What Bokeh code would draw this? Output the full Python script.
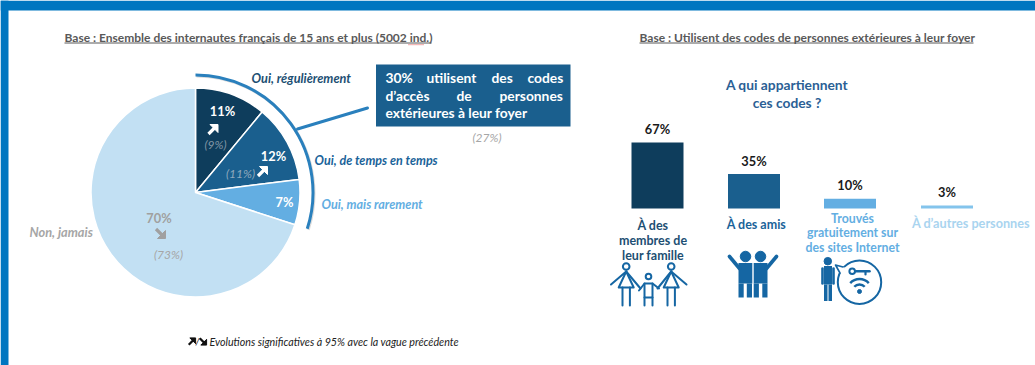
import math

from bokeh.core.properties import value
from bokeh.embed import file_html
from bokeh.models import ColumnDataSource, Range1d
from bokeh.plotting import figure
from bokeh.resources import INLINE

W, H = 1035, 365

# Survey figures
usage_labels = ["Oui, régulièrement", "Oui, de temps en temps", "Oui, mais rarement", "Non, jamais"]
usage_values = [11, 12, 7, 70]
usage_previous = [9, 11, None, 73]
usage_colors = ["#0e3d5c", "#1a5f8e", "#63aee2", "#c2e0f3"]
any_use_previous = 27

owner_labels = ["À des membres de leur famille", "À des amis",
                "Trouvés gratuitement sur des sites Internet", "À d'autres personnes"]
owner_values = [67, 35, 10, 3]
owner_colors = ["#0e3d5c", "#1a5f8e", "#63aee2", "#83c4ec"]

FONT = "Lato"
ICON = "#1566a3"

p = figure(width=W, height=H, output_backend="svg", toolbar_location=None,
           x_range=Range1d(0, W), y_range=Range1d(0, H),
           min_border=0, outline_line_color=None, background_fill_color="white")
p.axis.visible = False
p.grid.visible = False


def Y(y):
    """Page y (downwards) to plot y (upwards)."""
    return H - y


def label(x, y, txt, size, color, style="bold", align="center"):
    p.text([x], [Y(y)], text=[txt], text_font=value(FONT), text_font_size=f"{size}px",
           text_font_style=style, text_color=color, text_align=align, text_baseline="middle")


def arrow(cx, cy, color, up=True, s=1.0):
    """Thick diagonal trend arrow centred on a page position."""
    d = -1 if up else 1
    tipx, tipy = cx + 5 * s, cy + d * 5 * s
    p.line([cx - 4.5 * s, cx + 2 * s], [Y(cy - d * 4.5 * s), Y(cy + d * 2 * s)],
           line_color=color, line_width=3.2 * s)
    p.patch([tipx, tipx, tipx - 8 * s], [Y(tipy), Y(tipy - d * 8 * s), Y(tipy)], color=color)


def ring(x, y, r, color=ICON, w=2.0):
    p.scatter([x], [Y(y)], size=2 * r, fill_color="white", line_color=color, line_width=w)


def stroke(xs, ys, color=ICON, w=2.0):
    p.line(xs, [Y(v) for v in ys], line_color=color, line_width=w, line_cap="round", line_join="round")


def box(x0, x1, y0, y1, color=ICON):
    p.quad(left=x0, right=x1, top=Y(y0), bottom=Y(y1), color=color, line_width=0)


# Page frame
p.quad(left=0, right=W, top=H, bottom=Y(10), color="#0076c0", line_width=0)
p.quad(left=0, right=8, top=H, bottom=0, color="#0076c0", line_width=0)

# Panel headings
label(64, 37, "Base : Ensemble des internautes français de 15 ans et plus (5002 ind.)", 12, "#595959", align="left")
p.segment(64, Y(42.5), 431, Y(42.5), line_color="#595959", line_width=1)
p.segment(408, Y(44.2), 423, Y(44.2), line_color="#e05050", line_width=1, line_dash="1 1")
label(639, 37, "Base : Utilisent des codes de personnes extérieures à leur foyer", 12, "#595959", align="left")
p.segment(639, Y(42.5), 973, Y(42.5), line_color="#595959", line_width=1)

# Pie, clockwise from twelve o'clock
PX, PY, PR = 195, 192, 104.5
total = sum(usage_values)
angles = [math.pi / 2]
for v in usage_values:
    angles.append(angles[-1] - 2 * math.pi * v / total)
pie = ColumnDataSource(dict(x=[PX] * 4, y=[Y(PY)] * 4, start=angles[1:], end=angles[:-1], color=usage_colors))
p.wedge(x="x", y="y", radius=PR, start_angle="start", end_angle="end", fill_color="color",
        line_color="white", line_width=1.5, source=pie)

# Arc spanning the three "yes" slices, with its leader to the callout
p.arc([PX + 1], [Y(PY + 1)], radius=117.5, start_angle=angles[3], end_angle=angles[0],
      line_color="#9a9a9a", line_alpha=0.35, line_width=3)
p.arc([PX], [Y(PY)], radius=117.5, start_angle=angles[3], end_angle=angles[0],
      line_color="#2a80bd", line_width=3)
stroke([297, 367], [128.5, 107.5], color="#2a80bd", w=3)

# Callout
box(375.5, 570, 64, 126, color="#1a5f8e")
CALLOUT = 13.8
for x, y, word in [(385, 77, f"{sum(usage_values[:3])}%"), (426, 77, "utilisent"), (491, 77, "des"), (527, 77, "codes"),
                   (385, 95, "d’accès"), (456, 95, "de"), (499, 95, "personnes"),
                   (385, 112, "extérieures à leur foyer")]:
    label(x, y, word, CALLOUT, "white", align="left")
label(486.5, 137, f"({any_use_previous}%)", 12, "#a6a6a6", style="italic")

# Slice names
label(251, 77, usage_labels[0], 12.7, "#1d4f73", style="bold italic", align="left")
label(314, 160, usage_labels[1], 12.5, "#1a6399", style="bold italic", align="left")
label(321, 204, usage_labels[2], 12.6, "#63aee2", style="bold italic", align="left")
label(29, 231, usage_labels[3], 12.8, "#a6a6a6", style="bold italic", align="left")

# Slice values, trend arrows and previous wave
label(222, 110, f"{usage_values[0]}%", 12.8, "white")
arrow(212.5, 129, "white")
label(215, 144, f"({usage_previous[0]}%)", 12, "#8296a5", style="italic")
label(273, 155, f"{usage_values[1]}%", 12.8, "white")
arrow(262, 171, "white")
label(240, 173, f"({usage_previous[1]}%)", 12, "#8fa9bd", style="italic")
label(284, 201, f"{usage_values[2]}%", 12.8, "white")
label(158.5, 217.5, f"{usage_values[3]}%", 12.8, "#a0a0a0")
arrow(160, 233, "#a0a0a0", up=False)
label(168, 254, f"({usage_previous[3]}%)", 12, "#a6a6a6", style="italic")

# Significance note
arrow(191.5, 341, "#111111", s=0.72)
label(197, 340.5, "/", 9.5, "#111111", style="italic")
arrow(202.5, 341, "#111111", up=False, s=0.72)
label(209, 340.5, "Evolutions significatives à 95% avec la vague précédente", 10.7, "#222222", style="italic", align="left")

# Right panel heading
label(786.5, 84, "A qui appartiennent", 13.8, "#2b5f95")
label(786.5, 102, "ces codes ?", 13.8, "#2b5f95")

# Bars, on a percentage scale whose zero sits on the common baseline
BASE, PX_PER_PCT = 208, 0.985
p.extra_y_ranges = {"pct": Range1d((BASE - H) / PX_PER_PCT, BASE / PX_PER_PCT)}
bars = ColumnDataSource(dict(x=[657, 753.5, 849.5, 946.5], top=owner_values, color=owner_colors,
                             txt=[f"{v}%" for v in owner_values]))
p.vbar(x="x", width=52, bottom=0, top="top", fill_color="color", line_color=None, y_range_name="pct", source=bars)
p.text(x="x", y="top", text="txt", y_offset=-13.5, text_font=value(FONT), text_font_size="12.8px",
       text_font_style="bold", text_color="#1a1a1a", text_align="center", text_baseline="middle",
       y_range_name="pct", source=bars)

# Category names, wrapped by hand
for y, line in [(225, "À des"), (240, "membres de"), (254.5, "leur famille")]:
    label(652.5, y, line, 12.5, "#1d4f73")
label(756, 224, owner_labels[1], 12.5, "#1a6399")
for y, line in [(218, "Trouvés"), (232, "gratuitement sur"), (247, "des sites Internet")]:
    label(852, y, line, 12.3, "#63aee2")
label(970.5, 222, owner_labels[3].replace("'", "’"), 12.7, "#a9d4ef")


# Family pictogram
def adult(cx, left_hand, right_hand):
    ring(cx, 266, 3.3)
    stroke([cx, left_hand[0]], [271, left_hand[1]])
    stroke([cx, right_hand[0]], [271, right_hand[1]])
    stroke([cx, cx - 7.5, cx + 7.5, cx], [271, 287, 287, 271])
    for lx in (cx - 3.7, cx + 3.7):
        stroke([lx, lx], [287, 305])


adult(625.7, (610.5, 284), (640, 288))
adult(670.7, (657, 288), (686, 284))
ring(648, 276, 2.8)
stroke([638.5, 644, 652, 658.5], [290, 283, 283, 288])
stroke([644, 644, 652, 652], [283, 297, 297, 283])
for lx in (644, 652):
    stroke([lx, lx], [297, 305])

# Friends pictogram
for cx in (745, 760):
    p.scatter([cx], [Y(256)], size=10.5, color=ICON)
box(738, 751.8, 262.5, 283)
box(753.2, 767, 262.5, 283)
for x0 in (738, 746.3, 753.2, 761.8):
    box(x0, x0 + 5.2, 283, 297)
stroke([739, 729], [268, 256], w=3.6)
stroke([766, 776], [268, 256], w=3.6)

# Person with key and wifi speech bubble
p.scatter([827.3], [Y(260.7)], size=7.5, color=ICON)
box(823.5, 831.5, 265.5, 284)
stroke([822, 822], [268, 283], w=2.6)
stroke([833, 833], [268, 283], w=2.6)
box(823.5, 827, 284, 300.5)
box(828, 831.5, 284, 300.5)
ring(859, 281.7, 21.7)
p.quad(left=838, right=844, top=Y(266.5), bottom=Y(272.5), color="white", line_width=0)
stroke([842.5, 835, 839.5], [266.5, 264.5, 272.5], w=1.6)
ring(851.7, 270.7, 2.8, w=2)
stroke([855, 869], [270.7, 270.7], w=2.6)
stroke([865, 865], [270.7, 274], w=2.2)
p.arc([859] * 2, [Y(291)] * 2, radius=[7, 12.5], start_angle=math.radians(42), end_angle=math.radians(138),
      line_color=ICON, line_width=2.4)
p.scatter([859], [Y(291)], size=4, color=ICON)

open("out.html", "w").write(file_html(p, INLINE))
